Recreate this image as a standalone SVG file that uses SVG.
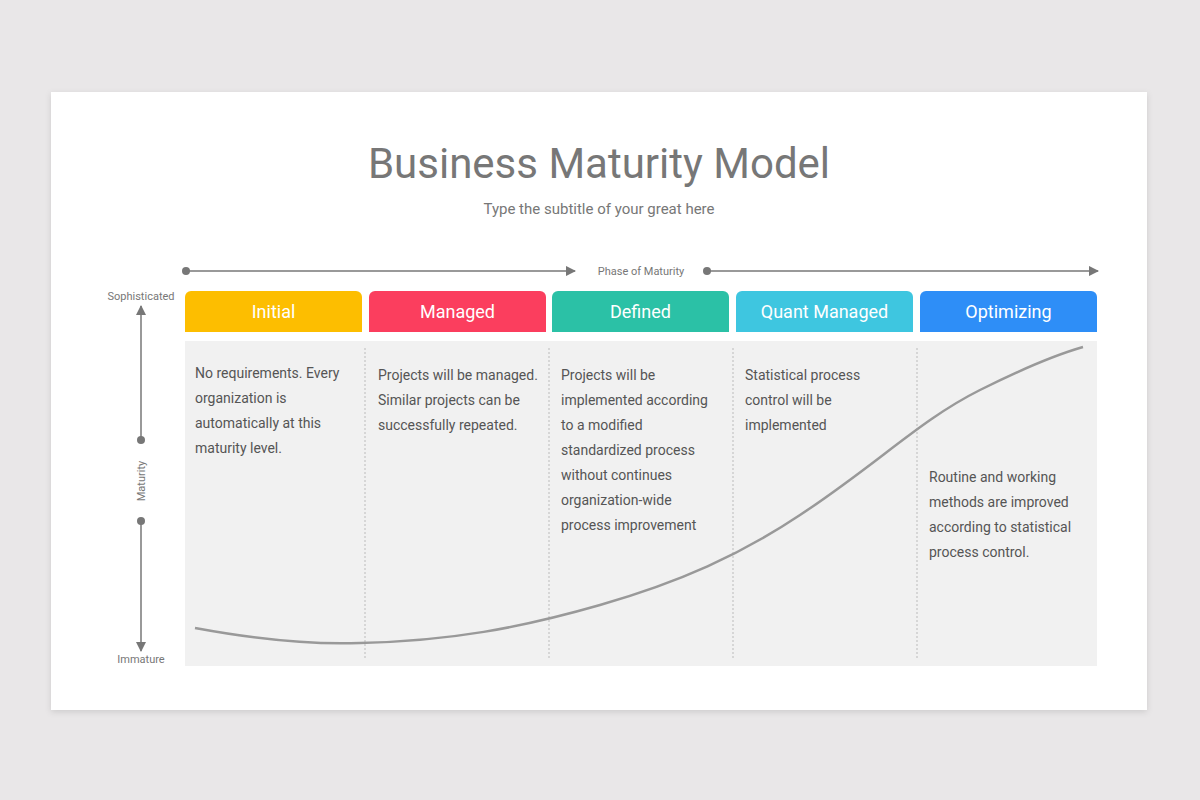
<svg xmlns="http://www.w3.org/2000/svg" width="1200" height="800" viewBox="0 0 1200 800">
<style>
text{font-family:Roboto,"Liberation Sans",sans-serif}
.hd{fill:#fff;font-size:18px;text-anchor:middle}
.bd{fill:#555;font-size:14px}
.ax{fill:#777;font-size:11px}
.ln{stroke:#777;stroke-width:1.5;fill:none}
.dv{stroke:#bbb;stroke-width:1;stroke-dasharray:2 2}
</style>
<defs>
<marker id="ar" viewBox="0 0 10 10" refX="9" refY="5" markerWidth="7" markerHeight="7" orient="auto-start-reverse"><path d="M0,0L10,5L0,10z" fill="#777"/></marker>
<filter id="sh" x="-5%" y="-5%" width="110%" height="115%"><feDropShadow dx="0" dy="2" stdDeviation="3" flood-opacity="0.12"/></filter>
</defs>
<rect width="1200" height="800" fill="#E9E7E8"/>
<rect x="51" y="92" width="1096" height="618" fill="#fff" filter="url(#sh)"/>
<text x="599" y="178" font-size="42" fill="#777" text-anchor="middle">Business Maturity Model</text>
<text x="599" y="214" font-size="15" fill="#777" text-anchor="middle">Type the subtitle of your great here</text>
<rect x="185" y="341" width="912" height="325" fill="#F1F1F1"/>
<g id="connectors">
<circle cx="186" cy="271" r="4" fill="#777"/>
<line class="ln" x1="186" y1="271" x2="575" y2="271" marker-end="url(#ar)"/>
<text class="ax" x="641" y="275" text-anchor="middle">Phase of Maturity</text>
<circle cx="707" cy="271" r="4" fill="#777"/>
<line class="ln" x1="707" y1="271" x2="1098" y2="271" marker-end="url(#ar)"/>
<text class="ax" x="141" y="300" text-anchor="middle">Sophisticated</text>
<line class="ln" x1="141" y1="440" x2="141" y2="306" marker-end="url(#ar)"/>
<circle cx="141" cy="440" r="4" fill="#777"/>
<text class="ax" transform="translate(145,481) rotate(-90)" text-anchor="middle">Maturity</text>
<circle cx="141" cy="521" r="4" fill="#777"/>
<line class="ln" x1="141" y1="521" x2="141" y2="651" marker-end="url(#ar)"/>
<text class="ax" x="141" y="663" text-anchor="middle">Immature</text>
<line class="dv" x1="365" y1="348" x2="365" y2="658"/>
<line class="dv" x1="549" y1="348" x2="549" y2="658"/>
<line class="dv" x1="733" y1="348" x2="733" y2="658"/>
<line class="dv" x1="917" y1="348" x2="917" y2="658"/>
<path d="M195,628 C260,640 310,645 360,643 C450,641 520,628 600,605 C680,582 740,555 800,515 C880,462 920,420 980,390 C1020,370 1055,355 1083,347" stroke="#999" stroke-width="2.5" fill="none"/>
</g>
<g id="n1"><path d="M185,332V297a6,6 0 0 1 6,-6H356a6,6 0 0 1 6,6V332z" fill="#FDBE00"/><text class="hd" x="273.5" y="318">Initial</text>
<text class="bd" x="195" y="378">No requirements. Every<tspan x="195" dy="25">organization is</tspan><tspan x="195" dy="25">automatically at this</tspan><tspan x="195" dy="25">maturity level.</tspan></text></g>
<g id="n2"><path d="M369,332V297a6,6 0 0 1 6,-6H540a6,6 0 0 1 6,6V332z" fill="#FB3E5E"/><text class="hd" x="457.5" y="318">Managed</text>
<text class="bd" x="378" y="380">Projects will be managed.<tspan x="378" dy="25">Similar projects can be</tspan><tspan x="378" dy="25">successfully repeated.</tspan></text></g>
<g id="n3"><path d="M552,332V297a6,6 0 0 1 6,-6H723a6,6 0 0 1 6,6V332z" fill="#2BC1A6"/><text class="hd" x="640.5" y="318">Defined</text>
<text class="bd" x="561" y="380">Projects will be<tspan x="561" dy="25">implemented according</tspan><tspan x="561" dy="25">to a modified</tspan><tspan x="561" dy="25">standardized process</tspan><tspan x="561" dy="25">without continues</tspan><tspan x="561" dy="25">organization-wide</tspan><tspan x="561" dy="25">process improvement</tspan></text></g>
<g id="n4"><path d="M736,332V297a6,6 0 0 1 6,-6H907a6,6 0 0 1 6,6V332z" fill="#3EC6E0"/><text class="hd" x="824.5" y="318">Quant Managed</text>
<text class="bd" x="745" y="380">Statistical process<tspan x="745" dy="25">control will be</tspan><tspan x="745" dy="25">implemented</tspan></text></g>
<g id="n5"><path d="M920,332V297a6,6 0 0 1 6,-6H1091a6,6 0 0 1 6,6V332z" fill="#2E8EF7"/><text class="hd" x="1008.5" y="318">Optimizing</text>
<text class="bd" x="929" y="482">Routine and working<tspan x="929" dy="25">methods are improved</tspan><tspan x="929" dy="25">according to statistical</tspan><tspan x="929" dy="25">process control.</tspan></text></g>
</svg>
